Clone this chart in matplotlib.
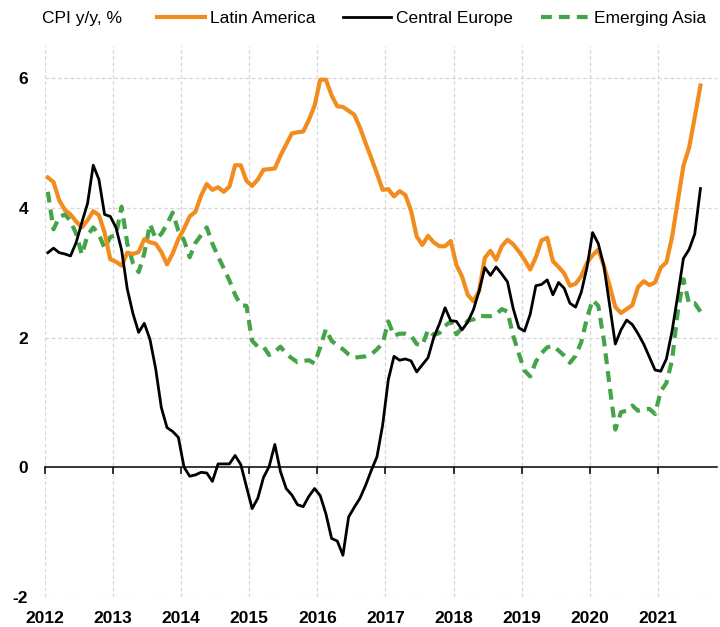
import numpy as np
import matplotlib
matplotlib.use("Agg")
from matplotlib import pyplot as plt
from matplotlib.lines import Line2D

# monthly CPI y/y, Jan 2012 - Aug 2021
latin_america = [
    4.47, 4.40, 4.12, 3.97, 3.90, 3.79, 3.70, 3.81, 3.95, 3.89, 3.62, 3.21,
    3.17, 3.11, 3.31, 3.29, 3.32, 3.52, 3.47, 3.45, 3.32, 3.13, 3.30, 3.52,
    3.68, 3.87, 3.94, 4.19, 4.37, 4.28, 4.32, 4.25, 4.33, 4.66, 4.66, 4.42,
    4.34, 4.44, 4.59, 4.60, 4.61, 4.81, 4.98, 5.15, 5.17, 5.18, 5.36, 5.58,
    5.98, 5.98, 5.74, 5.57, 5.56, 5.50, 5.44, 5.24, 5.00, 4.77, 4.53, 4.28,
    4.29, 4.18, 4.26, 4.20, 3.96, 3.56, 3.43, 3.57, 3.47, 3.41, 3.41, 3.49,
    3.12, 2.94, 2.66, 2.56, 2.72, 3.23, 3.34, 3.20, 3.41, 3.51, 3.44, 3.33,
    3.20, 3.05, 3.24, 3.50, 3.54, 3.18, 3.09, 2.99, 2.80, 2.83, 2.95, 3.15,
    3.27, 3.36, 3.10, 2.80, 2.47, 2.38, 2.44, 2.50, 2.78, 2.87, 2.81, 2.85,
    3.08, 3.16, 3.55, 4.10, 4.65, 4.93, 5.40, 5.89,
]
central_europe = [
    3.31, 3.38, 3.31, 3.29, 3.26, 3.47, 3.78, 4.07, 4.66, 4.44, 3.90, 3.87,
    3.70, 3.35, 2.75, 2.37, 2.08, 2.22, 1.97, 1.52, 0.92, 0.61, 0.55, 0.46,
    0.00, -0.14, -0.12, -0.08, -0.09, -0.22, 0.05, 0.05, 0.05, 0.18, 0.04, -0.30,
    -0.64, -0.48, -0.16, 0.01, 0.35, -0.07, -0.33, -0.43, -0.58, -0.61, -0.45, -0.33,
    -0.44, -0.72, -1.10, -1.14, -1.36, -0.77, -0.62, -0.48, -0.28, -0.05, 0.16, 0.65,
    1.35, 1.71, 1.65, 1.67, 1.64, 1.47, 1.58, 1.69, 2.00, 2.21, 2.46, 2.26,
    2.25, 2.12, 2.24, 2.43, 2.72, 3.08, 2.96, 3.09, 2.98, 2.86, 2.45, 2.15,
    2.10, 2.36, 2.80, 2.82, 2.89, 2.66, 2.85, 2.76, 2.53, 2.47, 2.70, 3.08,
    3.62, 3.45, 3.10, 2.50, 1.90, 2.12, 2.27, 2.20, 2.06, 1.90, 1.70, 1.50,
    1.48, 1.67, 2.10, 2.65, 3.22, 3.36, 3.60, 4.30,
]
emerging_asia = [
    4.25, 3.67, 3.86, 3.90, 3.80, 3.60, 3.28, 3.58, 3.70, 3.59, 3.38, 3.55,
    3.58, 4.02, 3.45, 3.15, 3.01, 3.30, 3.75, 3.53, 3.60, 3.75, 3.93, 3.65,
    3.50, 3.24, 3.46, 3.58, 3.70, 3.45, 3.25, 3.07, 2.88, 2.66, 2.50, 2.49,
    1.95, 1.86, 1.86, 1.73, 1.78, 1.86, 1.75, 1.68, 1.62, 1.64, 1.65, 1.60,
    1.85, 2.13, 1.95, 1.88, 1.82, 1.74, 1.69, 1.70, 1.71, 1.74, 1.82, 1.91,
    2.25, 2.03, 2.06, 2.06, 2.03, 1.90, 1.88, 2.12, 2.04, 2.07, 2.18, 2.25,
    2.05, 2.15, 2.26, 2.28, 2.34, 2.33, 2.33, 2.36, 2.44, 2.40, 2.03, 1.75,
    1.49, 1.40, 1.63, 1.76, 1.85, 1.87, 1.80, 1.72, 1.61, 1.72, 1.93, 2.30,
    2.58, 2.49, 1.95, 1.25, 0.58, 0.85, 0.87, 0.95, 0.87, 0.89, 0.90, 0.82,
    1.17, 1.30, 1.65, 2.40, 2.90, 2.52, 2.53, 2.40,
]
years = list(range(2012, 2022))
y_ticks = [-2, 0, 2, 4, 6]

# mid-month positions in decimal years
t = 2012 + (np.arange(len(latin_america)) + 0.5) / 12

ORANGE = "#F28C1F"
GREEN = "#45A34A"
GRID = "#d6d6d6"
FONT = "Liberation Sans"

fig = plt.figure(figsize=(7.2, 6.27), dpi=100)
ax = fig.add_axes([0.0625, 0.0483, 0.9335, 0.8783])

ax.set_xlim(2012, 2021.87)
ax.set_ylim(-2, 6.5)

# dashed grid
for yr in years:
    ax.axvline(yr, color=GRID, lw=0.9, ls=(0, (3, 2)), zorder=0)
for yv in [-2, 2, 4, 6]:
    ax.axhline(yv, color=GRID, lw=0.9, ls=(0, (3, 2)), zorder=0)

ax.plot(t, latin_america, color=ORANGE, lw=3.0, solid_joinstyle="round", zorder=3)
ax.plot(t, central_europe, color="black", lw=2.0, zorder=4)
ax.plot(t, emerging_asia, color=GREEN, lw=3.0, ls=(0, (2.6, 1.7)), zorder=2)

for s in ["top", "right", "left"]:
    ax.spines[s].set_visible(False)
ax.spines["bottom"].set_position(("data", 0))
ax.spines["bottom"].set_linewidth(1.1)
ax.set_xticks(years)
ax.tick_params(axis="x", direction="out", length=5, width=1.1, labelbottom=False)
ax.set_yticks(y_ticks)
ax.set_yticklabels([str(v) for v in y_ticks])
ax.tick_params(axis="y", length=0, pad=12)
for lab in ax.get_yticklabels():
    lab.set_fontfamily(FONT)
    lab.set_fontweight("bold")
    lab.set_fontsize(12.5)

sec = ax.secondary_xaxis("bottom")
sec.set_xticks(years)
sec.set_xticklabels([str(y) for y in years])
sec.spines["bottom"].set_visible(False)
sec.tick_params(length=0, pad=10)
for lab in sec.get_xticklabels():
    lab.set_fontfamily(FONT)
    lab.set_fontweight("bold")
    lab.set_fontsize(12.5)

fig.text(0.058, 0.971, "CPI y/y, %", fontfamily=FONT, fontsize=12.5, va="center", ha="left")
handles = [
    Line2D([], [], color=ORANGE, lw=3.0),
    Line2D([], [], color="black", lw=2.0),
    Line2D([], [], color=GREEN, lw=3.0, ls=(0, (2.6, 1.7))),
]
fig.legend(handles, ["Latin America", "Central Europe", "Emerging Asia"],
           loc="center left", bbox_to_anchor=(0.218, 0.971), ncol=3, frameon=False,
           prop={"family": FONT, "size": 12.5}, handlelength=2.76,
           handletextpad=0.3, columnspacing=1.6, borderpad=0, borderaxespad=0)

fig.savefig("out.png", dpi=100)
